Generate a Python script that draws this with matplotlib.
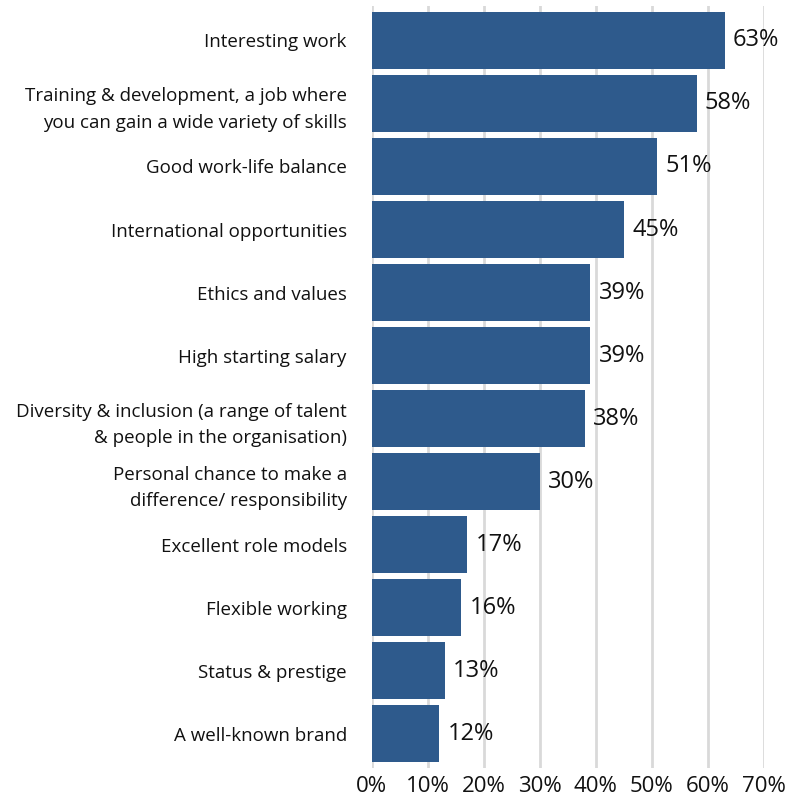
import matplotlib
matplotlib.use("Agg")
import matplotlib.pyplot as plt
from matplotlib.ticker import FuncFormatter

categories = [
    "Interesting work",
    "Training & development, a job where\nyou can gain a wide variety of skills",
    "Good work-life balance",
    "International opportunities",
    "Ethics and values",
    "High starting salary",
    "Diversity & inclusion (a range of talent\n& people in the organisation)",
    "Personal chance to make a\ndifference/ responsibility",
    "Excellent role models",
    "Flexible working",
    "Status & prestige",
    "A well-known brand",
]
values = [63, 58, 51, 45, 39, 39, 38, 30, 17, 16, 13, 12]
x_ticks = [0, 10, 20, 30, 40, 50, 60, 70]

plt.rcParams["font.family"] = ["Open Sans", "DejaVu Sans"]

fig = plt.figure(figsize=(7.98, 7.99), dpi=100)
ax = fig.add_axes([0.466, 0.039, 0.491, 0.953])

pos = list(range(len(categories)))
ax.barh(pos, values, height=0.9, color="#2E5A8C", zorder=2)
for p, v in zip(pos, values):
    ax.text(v + 1.5, p, f"{v}%", va="center", ha="left", fontsize=17, color="#111111")

ax.set_xlim(0, 70)
ax.set_ylim(len(categories) - 0.46, -0.54)
ax.set_xticks(x_ticks)
ax.xaxis.set_major_formatter(FuncFormatter(lambda x, _: f"{int(x)}%"))
ax.set_yticks(pos)
ax.set_yticklabels(categories, fontsize=13.5, linespacing=1.6)
ax.tick_params(axis="y", length=0, pad=18, colors="#111111")
ax.tick_params(axis="x", length=0, pad=6, labelsize=16, colors="#111111")
for lbl in ax.get_yticklabels():
    lbl.set_horizontalalignment("right")

ax.grid(axis="x", color="#d9d9d9", linewidth=2, zorder=0)
ax.set_axisbelow(True)
for s in ax.spines.values():
    s.set_visible(False)

fig.savefig("out.png", dpi=100)
